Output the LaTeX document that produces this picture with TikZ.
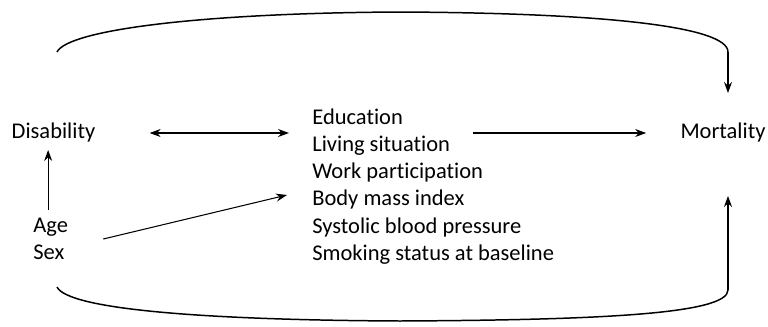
\documentclass[tikz,border=0pt]{standalone}
\usepackage{fontspec}
\setmainfont{Carlito}[Ligatures={NoCommon}]
\usepackage{tikz}
\usetikzlibrary{arrows.meta,calc}

\begin{document}
\begin{tikzpicture}[
  x=0.02cm, y=0.02cm,
  font=\fontsize{12.8}{15.5}\selectfont,
  >={Stealth[length=2.2mm,width=1.6mm]},
  lbl/.style={
    inner sep=0pt,
    align=left
  },
  arr/.style={
    ->,
    line width=0.6pt
  },
  arc/.style={
    line width=0.85pt
  }
]

\useasboundingbox (0,0) rectangle (768,326);

% Exposure and confounders
\node[lbl] (dis) at (53.5,193) {Disability};
\node[lbl, anchor=west] (agesex) at (33,87) {Age\\Sex};

% Mediators
\node[lbl, anchor=west] (med) at (312,139.5)
  {Education\\
   Living situation\\
   Work participation\\
   Body mass index\\
   Systolic blood pressure\\
   Smoking status at baseline};

% Outcome
\node[lbl] (mort) at (723,193) {Mortality};

% Free ends of the curved paths
\coordinate (topL) at (57,274);
\coordinate (topM) at (400,314);
\coordinate (topR) at (728,274);
\coordinate (botL) at (57,39);
\coordinate (botM) at (400,5);
\coordinate (botR) at (728,36);

% Straight arrows
\draw[arr] ($(agesex.north)+(-2.5,8)$) -- ($(agesex.north |- dis.south)+(-2.5,-7)$);
\draw[arr, <->] ($(dis.east)+(54,0)$) -- ($(med.west |- dis.east)+(-23,0)$);
\draw[arr] ($(agesex.east)+(35,0)$) -- ($(med.west)+(-25,-8.5)$);
\draw[arr] ($(med.west |- dis.east)+(161,0)$) -- ($(mort.west)+(-34,0)$);

% Curved arrows
\draw[arc] (topL) .. controls (68,296) and (200,313) .. (topM)
  .. controls (600,313) and (728,300) .. (topR);
\draw[arr] (topR) -- ($(mort.north -| topR)+(0,30)$);
\draw[arc] (botL) .. controls (68,17) and (200,6) .. (botM)
  .. controls (600,6) and (728,12) .. (botR);
\draw[arr] (botR) -- ($(mort.south -| botR)+(0,-53)$);

\end{tikzpicture}
\end{document}
